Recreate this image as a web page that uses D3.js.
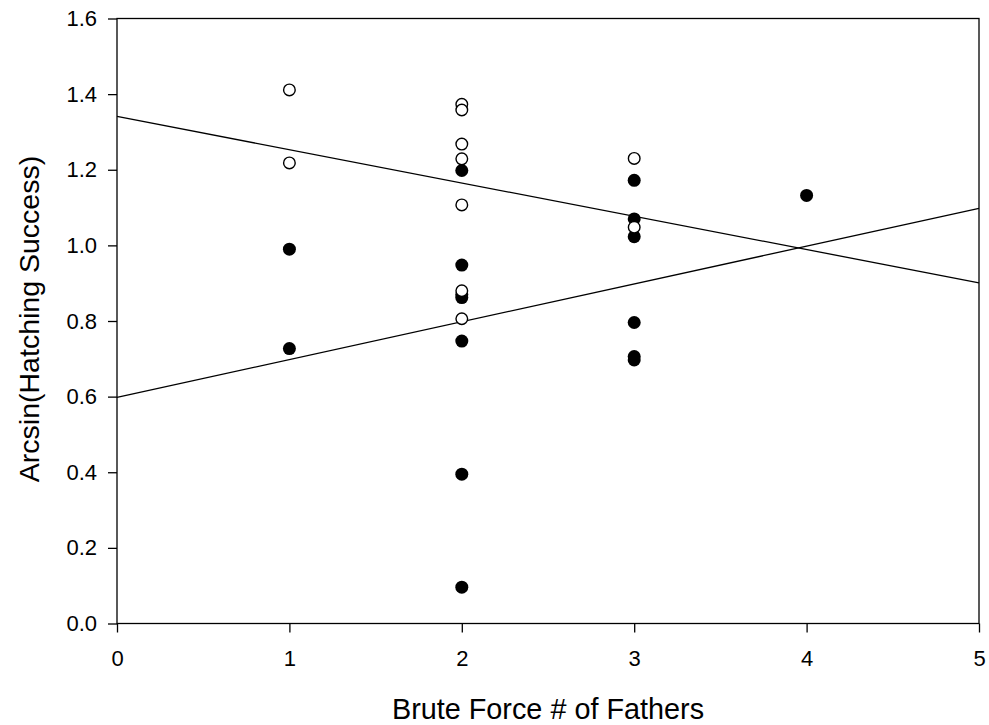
<!DOCTYPE html>
<html>
<head>
<meta charset="utf-8">
<script src="https://cdn.jsdelivr.net/npm/d3@7"></script>
<style>
  body { margin: 0; background: #fff; }
  svg { font-family: Arial, "Liberation Sans", sans-serif; }
</style>
</head>
<body>
<div id="chart"></div>
<script>
    'use strict';

    // filled circles
    var filledX = [1, 1, 2, 2, 2, 2, 2, 2, 2, 3, 3, 3, 3, 3, 3, 4];
    var filledY = [0.990, 0.727, 1.198, 0.948, 0.870, 0.862, 0.747, 0.395, 0.096,
                   1.172, 1.070, 1.023, 0.796, 0.706, 0.697, 1.132];

    // open circles
    var openX = [1, 1, 2, 2, 2, 2, 2, 2, 2, 3, 3];
    var openY = [1.411, 1.218, 1.373, 1.358, 1.268, 1.229, 1.107, 0.880, 0.806, 1.230, 1.048];

    // fitted lines: [intercept, slope]
    var lineIntercepts = [1.341, 0.598];
    var lineSlopes = [-0.088, 0.100];

    var xTicks = [0, 1, 2, 3, 4, 5];
    var yTicks = [0, 0.2, 0.4, 0.6, 0.8, 1.0, 1.2, 1.4, 1.6];

    var W = 989, H = 725;
    var margin = {top: 18.5, right: 10, bottom: 101.5, left: 117};
    var w = W - margin.left - margin.right;
    var h = H - margin.top - margin.bottom;

    var svg = d3.select("#chart").append("svg")
        .attr("width", W)
        .attr("height", H);

    var g = svg.append("g")
        .attr("transform", "translate(" + margin.left + "," + margin.top + ")");

    var x = d3.scaleLinear().domain([0, 5]).range([0, w]);
    var y = d3.scaleLinear().domain([0, 1.6]).range([h, 0]);

    // axes
    var xAxis = g.append("g")
        .attr("transform", "translate(0," + h + ")")
        .call(d3.axisBottom(x).tickValues(xTicks).tickFormat(d3.format("d"))
            .tickSize(9).tickSizeOuter(0).tickPadding(18));
    var yAxis = g.append("g")
        .call(d3.axisLeft(y).tickValues(yTicks).tickFormat(d3.format(".1f"))
            .tickSize(9).tickSizeOuter(0).tickPadding(11));

    [xAxis, yAxis].forEach(function(a) {
        a.select(".domain").remove();
        a.selectAll("line").attr("stroke", "#000").attr("stroke-width", 1.3);
        a.selectAll("text").attr("fill", "#000").style("font-size", "22px")
            .style("font-family", "Arial, 'Liberation Sans', sans-serif");
    });

    // frame
    g.append("rect")
        .attr("x", 0).attr("y", 0)
        .attr("width", w).attr("height", h)
        .attr("fill", "none")
        .attr("stroke", "#000")
        .attr("stroke-width", 1.3);

    // fitted lines
    lineIntercepts.forEach(function(b, i) {
        var m = lineSlopes[i];
        g.append("line")
            .attr("x1", x(0)).attr("y1", y(b))
            .attr("x2", x(5)).attr("y2", y(b + m * 5))
            .attr("stroke", "#000")
            .attr("stroke-width", 1.3);
    });

    // points
    g.selectAll(".filled")
        .data(filledY)
        .enter().append("circle")
        .attr("class", "filled")
        .attr("cx", function(d, i) { return x(filledX[i]); })
        .attr("cy", function(d) { return y(d); })
        .attr("r", 6.5)
        .attr("fill", "#000");

    g.selectAll(".open")
        .data(openY)
        .enter().append("circle")
        .attr("class", "open")
        .attr("cx", function(d, i) { return x(openX[i]); })
        .attr("cy", function(d) { return y(d); })
        .attr("r", 5.8)
        .attr("fill", "#fff")
        .attr("stroke", "#000")
        .attr("stroke-width", 1.4);

    // titles
    svg.append("text")
        .attr("x", margin.left + w / 2)
        .attr("y", 719)
        .attr("text-anchor", "middle")
        .style("font-size", "28.8px")
        .text("Brute Force # of Fathers");

    svg.append("text")
        .attr("transform", "translate(39," + (margin.top + h / 2 - 2) + ") rotate(-90)")
        .attr("text-anchor", "middle")
        .style("font-size", "28.5px")
        .text("Arcsin(Hatching Success)");
</script>
</body>
</html>
